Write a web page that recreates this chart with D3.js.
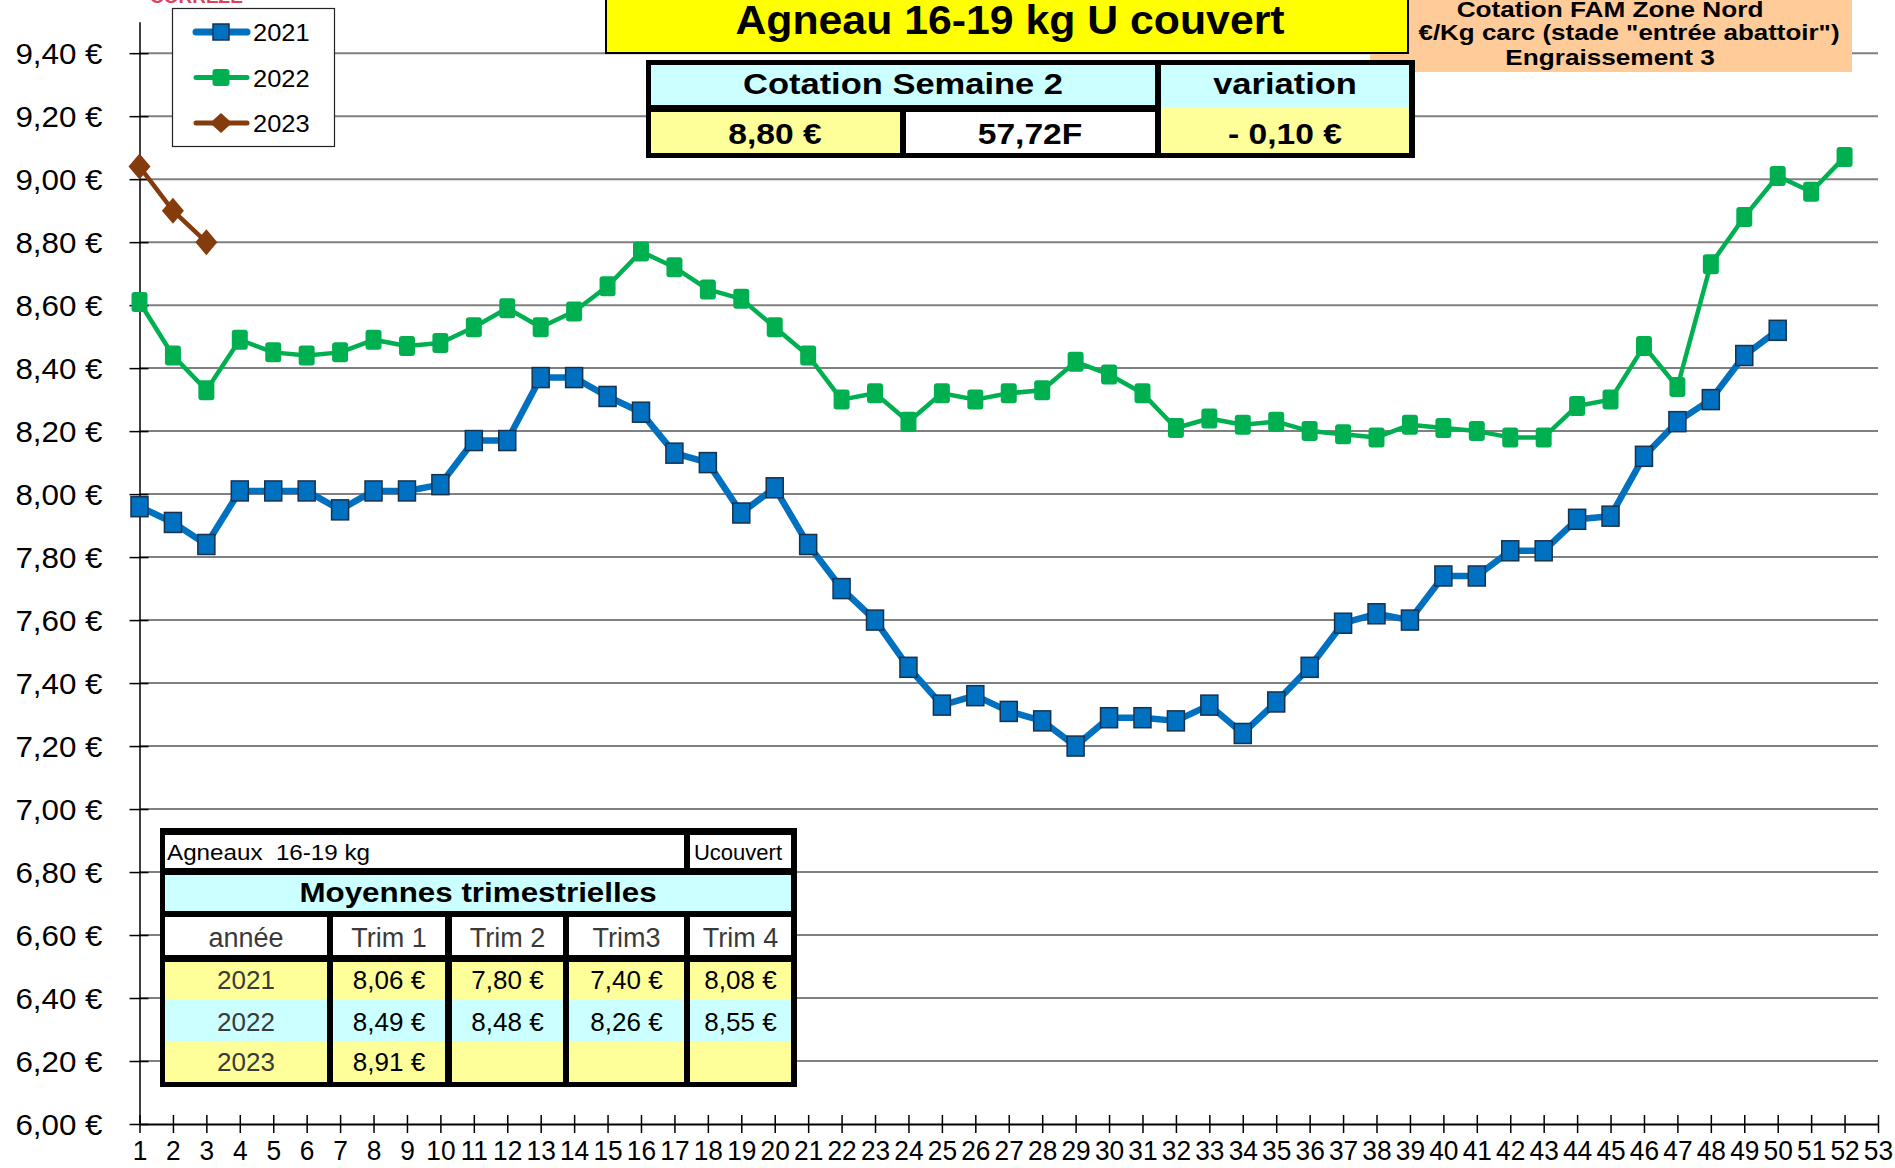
<!DOCTYPE html>
<html><head><meta charset="utf-8">
<script src="https://cdn.jsdelivr.net/npm/d3@7"></script>
<style>
html,body{margin:0;padding:0;background:#fff;overflow:hidden}
svg{display:block}
text{font-family:"Liberation Sans",Arial,Helvetica,sans-serif;white-space:pre}
</style>
</head><body>
<svg id="chart" width="1895" height="1168"></svg>
<script>
// ---------- DATA ----------
const weekLabels = [1,2,3,4,5,6,7,8,9,10,11,12,13,14,15,16,17,18,19,20,21,22,23,24,25,26,27,28,29,30,31,32,33,34,35,36,37,38,39,40,41,42,43,44,45,46,47,48,49,50,51,52,53];
const yTicks = [6.0,6.2,6.4,6.6,6.8,7.0,7.2,7.4,7.6,7.8,8.0,8.2,8.4,8.6,8.8,9.0,9.2,9.4];
const seriesNames = ["2021","2022","2023"];
const seriesColors = ["#0070C0","#00B050","#843C0C"];
const values2021 = [7.96,7.91,7.84,8.01,8.01,8.01,7.95,8.01,8.01,8.03,8.17,8.17,8.37,8.37,8.31,8.26,8.13,8.10,7.94,8.02,
  7.84,7.70,7.60,7.45,7.33,7.36,7.31,7.28,7.20,7.29,7.29,7.28,7.33,7.24,7.34,7.45,7.59,7.62,7.60,7.74,
  7.74,7.82,7.82,7.92,7.93,8.12,8.23,8.30,8.44,8.52];
const values2022 = [8.61,8.44,8.33,8.49,8.45,8.44,8.45,8.49,8.47,8.48,8.53,8.59,8.53,8.58,8.66,8.77,8.72,8.65,8.62,8.53,
  8.44,8.30,8.32,8.23,8.32,8.30,8.32,8.33,8.42,8.38,8.32,8.21,8.24,8.22,8.23,8.20,8.19,8.18,8.22,8.21,
  8.20,8.18,8.18,8.28,8.30,8.47,8.34,8.73,8.88,9.01,8.96,9.07];
const values2023 = [9.04,8.90,8.80];

const titleText = "Agneau 16-19 kg U couvert";
const sourceLines = ["Cotation FAM Zone Nord", "€/Kg carc (stade \"entrée abattoir\")", "Engraissement 3"];
const cornerText = "CORREZE";
const cotationHeader = ["Cotation Semaine 2", "variation"];
const cotationValues = ["8,80 €", "57,72F", "- 0,10 €"];
const tableTitle = ["Agneaux  16-19 kg", "Ucouvert"];
const tableHeading = "Moyennes trimestrielles";
const trimHeader = ["année", "Trim 1", "Trim 2", "Trim3", "Trim 4"];
const trimYears = ["2021", "2022", "2023"];
const trimValues = [
  ["8,06 €", "7,80 €", "7,40 €", "8,08 €"],
  ["8,49 €", "8,48 €", "8,26 €", "8,55 €"],
  ["8,91 €", "", "", ""]
];

// ---------- SETUP ----------
const svg = d3.select("#chart");
const YELLOW = "#FFFF99", CYAN = "#CCFFFF";

function T(parent, x, y, s, o = {}) {
  return parent.append("text")
    .attr("transform", `translate(${x},${y}) scale(${o.sx ?? 1.12},1)`)
    .attr("text-anchor", o.anchor || "middle")
    .attr("font-size", o.size || 24)
    .attr("font-weight", o.weight || "normal")
    .attr("fill", o.fill || "#000")
    .attr("xml:space", "preserve")
    .text(s);
}

const x = d3.scaleLinear().domain([1, 53]).range([139.5, 1878]);
const y = d3.scaleLinear().domain([6, 9.5]).range([1124, 1124 - 17.5 * 62.99]);

// corner red text (cut off at top in the reference)
T(svg, 150, 3, cornerText, {anchor: "start", size: 19, weight: "bold", fill: "#E0405A", sx: 1.0});

// gridlines
svg.append("g").selectAll("line").data(yTicks.filter(d => d > 6)).join("line")
  .attr("x1", x(1)).attr("x2", x(53))
  .attr("y1", d => y(d)).attr("y2", d => y(d))
  .attr("stroke", "#808080").attr("stroke-width", 2);

// y axis
const yAxis = svg.append("g").attr("transform", `translate(${x(1)},0)`)
  .call(d3.axisLeft(y).tickValues(yTicks).tickSize(0)
    .tickFormat(d => d.toFixed(2).replace(".", ",") + " €"));
yAxis.select(".domain").attr("stroke", "#000").attr("stroke-width", 1.5);
yAxis.selectAll(".tick line").attr("x1", -10).attr("x2", 9).attr("stroke", "#000").attr("stroke-width", 1.5);
yAxis.selectAll(".tick text").attr("x", 0).attr("dy", null).attr("y", 10)
  .attr("transform", "translate(-37,0) scale(1.08,1)")
  .attr("font-size", 29).attr("fill", "#000").attr("text-anchor", "end")
  .attr("font-family", "Liberation Sans, Arial, sans-serif");

// x axis
const xAxis = svg.append("g").attr("transform", `translate(0,${y(6)})`)
  .call(d3.axisBottom(x).tickValues(weekLabels).tickSize(0).tickFormat(d => String(d)));
xAxis.select(".domain").attr("stroke", "#000").attr("stroke-width", 2);
xAxis.selectAll(".tick line").attr("y1", -9).attr("y2", 9).attr("stroke", "#000").attr("stroke-width", 1.5);
xAxis.selectAll(".tick text").attr("dy", null).attr("y", 0)
  .attr("transform", "translate(0,36) scale(0.94,1)")
  .attr("font-size", 28).attr("fill", "#000")
  .attr("font-family", "Liberation Sans, Arial, sans-serif");

// series
const allSeries = [values2021, values2022, values2023];
const lineWidths = [6.5, 4.5, 4.5];
const line = d3.line().x((d, i) => x(i + 1)).y(d => y(d));
allSeries.forEach((vals, si) => {
  svg.append("path").datum(vals).attr("d", line)
    .attr("fill", "none").attr("stroke", seriesColors[si])
    .attr("stroke-width", lineWidths[si]).attr("stroke-linejoin", "round").attr("stroke-linecap", "round");
});
function marker(g, si, cx, cy, big) {
  if (si === 0) {
    const w = big ? 16 : 17, h = big ? 16 : 20;
    g.append("rect").attr("x", cx - w / 2).attr("y", cy - h / 2).attr("width", w).attr("height", h)
      .attr("fill", seriesColors[0]).attr("stroke", "#17324f").attr("stroke-width", 1.5);
  } else if (si === 1) {
    const w = big ? 17 : 16, h = big ? 17 : 20;
    g.append("rect").attr("x", cx - w / 2).attr("y", cy - h / 2).attr("width", w).attr("height", h).attr("rx", 3)
      .attr("fill", seriesColors[1]);
  } else {
    const hw = big ? 11 : 11, hh = big ? 10 : 13;
    g.append("path").attr("d", `M${cx},${cy - hh}L${cx + hw},${cy}L${cx},${cy + hh}L${cx - hw},${cy}Z`)
      .attr("fill", seriesColors[2]);
  }
}
allSeries.forEach((vals, si) => {
  const g = svg.append("g");
  vals.forEach((v, i) => marker(g, si, x(i + 1), y(v), false));
});

// legend
const lg = svg.append("g");
lg.append("rect").attr("x", 172.5).attr("y", 8.5).attr("width", 162).attr("height", 138)
  .attr("fill", "#fff").attr("stroke", "#222").attr("stroke-width", 1.2);
seriesNames.forEach((n, i) => {
  const cy = 32 + i * 45.5;
  lg.append("line").attr("x1", 196).attr("x2", 247).attr("y1", cy).attr("y2", cy)
    .attr("stroke", seriesColors[i]).attr("stroke-width", i === 0 ? 7 : 5).attr("stroke-linecap", "round");
  marker(lg, i, 221, cy, true);
  T(lg, 253, cy + 9, n, {anchor: "start", size: 24, sx: 1.06});
});

// source (orange) box, behind title
svg.append("rect").attr("x", 1370).attr("y", 0).attr("width", 482).attr("height", 72).attr("fill", "#FFCC99");
T(svg, 1610, 17, sourceLines[0], {size: 22, weight: "bold", sx: 1.19});
T(svg, 1629, 40, sourceLines[1], {size: 22, weight: "bold", sx: 1.18});
T(svg, 1610, 65, sourceLines[2], {size: 22, weight: "bold", sx: 1.19});

// title box
svg.append("rect").attr("x", 606).attr("y", -2).attr("width", 802).attr("height", 55)
  .attr("fill", "#FFFF00").attr("stroke", "#000").attr("stroke-width", 2);
T(svg, 1010, 34, titleText, {size: 40, weight: "bold", sx: 1.07});

// cotation table
const ct = svg.append("g");
ct.append("rect").attr("x", 646).attr("y", 60).attr("width", 769).attr("height", 98).attr("fill", "#000");
ct.append("rect").attr("x", 651).attr("y", 65).attr("width", 504).attr("height", 40).attr("fill", CYAN);
ct.append("rect").attr("x", 1161).attr("y", 65).attr("width", 248).attr("height", 43).attr("fill", CYAN);
ct.append("rect").attr("x", 651).attr("y", 112).attr("width", 249).attr("height", 41).attr("fill", YELLOW);
ct.append("rect").attr("x", 906).attr("y", 112).attr("width", 249).attr("height", 41).attr("fill", "#fff");
ct.append("rect").attr("x", 1161).attr("y", 108).attr("width", 248).attr("height", 45).attr("fill", YELLOW);
T(ct, 903, 94, cotationHeader[0], {size: 30, weight: "bold", sx: 1.15});
T(ct, 1285, 94, cotationHeader[1], {size: 30, weight: "bold", sx: 1.15});
T(ct, 775, 144, cotationValues[0], {size: 30, weight: "bold", sx: 1.12});
T(ct, 1030, 144, cotationValues[1], {size: 30, weight: "bold", sx: 1.12});
T(ct, 1285, 144, cotationValues[2], {size: 30, weight: "bold", sx: 1.12});

// quarterly averages table
const tb = svg.append("g");
const colX = [165, 333, 452, 569, 690];
const colR = [327, 445, 563, 684, 791];
tb.append("rect").attr("x", 160).attr("y", 828).attr("width", 637).attr("height", 259).attr("fill", "#000");
tb.append("rect").attr("x", 165).attr("y", 835).attr("width", 519).attr("height", 33).attr("fill", "#fff");
tb.append("rect").attr("x", 690).attr("y", 835).attr("width", 101).attr("height", 33).attr("fill", "#fff");
tb.append("rect").attr("x", 165).attr("y", 875).attr("width", 626).attr("height", 36).attr("fill", CYAN);
T(tb, 167, 860, tableTitle[0], {anchor: "start", size: 22, sx: 1.1});
T(tb, 738, 860, tableTitle[1], {size: 22, sx: 1.0});
T(tb, 478, 902, tableHeading, {size: 28, weight: "bold", sx: 1.12});
const rowTop = [962, 1000, 1042], rowBot = [1000, 1042, 1082];
const rowFill = [YELLOW, CYAN, YELLOW];
colX.forEach((cx0, c) => {
  tb.append("rect").attr("x", cx0).attr("y", 917).attr("width", colR[c] - cx0).attr("height", 38).attr("fill", "#fff");
  T(tb, (cx0 + colR[c]) / 2, 947, trimHeader[c], {size: 27, fill: "#3a3a3a", sx: 1.0});
  rowTop.forEach((t, r) => {
    tb.append("rect").attr("x", cx0).attr("y", t).attr("width", colR[c] - cx0).attr("height", rowBot[r] - t).attr("fill", rowFill[r]);
    const s = c === 0 ? trimYears[r] : trimValues[r][c - 1];
    if (s) T(tb, (cx0 + colR[c]) / 2, rowBot[r] - 11, s, {size: 26, fill: c === 0 ? "#3a3a3a" : "#000", sx: 1.0});
  });
});
</script>
</body></html>
